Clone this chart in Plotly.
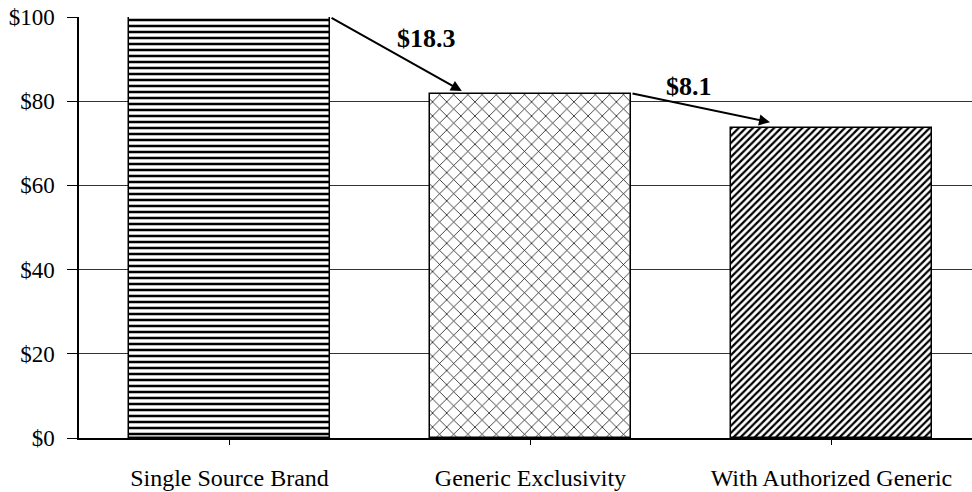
import plotly.graph_objects as go

categories = ["Single Source Brand", "Generic Exclusivity", "With Authorized Generic"]
values = [100.0, 81.7, 73.6]
drops = ["$18.3", "$8.1"]
y_ticks = [0, 20, 40, 60, 80, 100]
y_tick_labels = ["$0", "$20", "$40", "$60", "$80", "$100"]

patterns = ["-", "x", "/"]
pattern_sizes = [6, 10, 5]
pattern_solidity = [0.42, 0.14, 0.45]

FONT = "Liberation Serif, Times New Roman, serif"

fig = go.Figure()
fig.add_trace(go.Bar(
    x=list(range(len(categories))),
    y=values,
    width=0.667,
    marker=dict(
        color="white",
        line=dict(color="black", width=1.5),
        pattern=dict(shape=patterns, size=pattern_sizes, solidity=pattern_solidity,
                     fgcolor="black", bgcolor="white", fillmode="replace"),
    ),
    showlegend=False,
    hoverinfo="skip",
))

# arrows between bars
arrow_ends = [(0.772, 82.4), (1.796, 75.0)]
label_pos = [(0.656, 94.8), (1.527, 83.4)]
for i in range(2):
    ex, ey = arrow_ends[i]
    fig.add_annotation(
        x=ex, y=ey, ax=i + 0.334, ay=values[i] + (0 if i == 0 else 0.2),
        xref="x", yref="y", axref="x", ayref="y",
        showarrow=True, arrowhead=2, arrowsize=1.1, arrowwidth=2, arrowcolor="black",
        text="",
    )
    lx, ly = label_pos[i]
    fig.add_annotation(
        x=lx, y=ly, xref="x", yref="y", showarrow=False,
        text="<b>" + drops[i] + "</b>",
        font=dict(family=FONT, size=26, color="black"),
    )

fig.update_layout(
    width=972, height=492,
    margin=dict(l=79, r=0, t=17, b=54, autoexpand=False),
    plot_bgcolor="white", paper_bgcolor="white",
    font=dict(family=FONT, size=23, color="black"),
    bargap=0,
)
fig.update_xaxes(
    range=[-0.5, 2.467],
    tickmode="array", tickvals=list(range(len(categories))), ticktext=categories,
    tickson="boundaries", ticks="outside", ticklen=5, tickcolor="black", tickwidth=1,
    showline=True, linecolor="black", linewidth=1.5,
    showgrid=False, zeroline=False,
    ticklabelstandoff=12,
    tickfont=dict(family=FONT, size=24),
)
fig.update_yaxes(
    range=[0, 100],
    tickmode="array", tickvals=y_ticks, ticktext=y_tick_labels,
    ticks="outside", ticklen=10, tickcolor="black", tickwidth=1,
    showline=True, linecolor="black", linewidth=1.5,
    showgrid=True, gridcolor="#333333", gridwidth=1,
    zeroline=False,
    ticklabelstandoff=8,
    tickfont=dict(family=FONT, size=23),
)

fig.write_html(
    "out.html",
    config={"displayModeBar": False},
    post_script="document.body.style.margin='0';document.body.style.overflow='hidden';",
)
